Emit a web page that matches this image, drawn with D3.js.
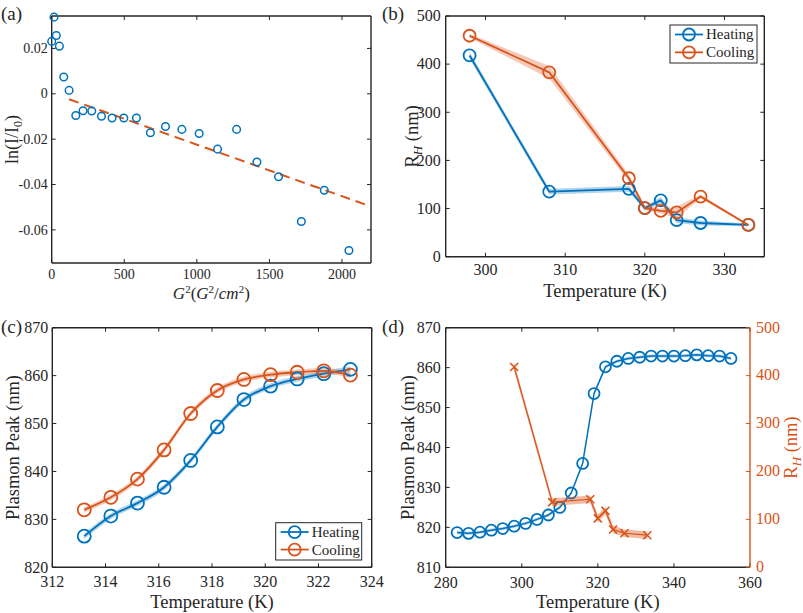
<!DOCTYPE html>
<html><head><meta charset="utf-8">
<script src="https://cdn.jsdelivr.net/npm/d3@7"></script>
<style>
body{margin:0;background:#fff}
svg{display:block}
svg text{font-family:"Liberation Serif","Times New Roman",serif;fill:#262626}
</style>
</head><body>
<svg id="chart" width="803" height="613"></svg>
<script>
// ---------- DATA ----------
// (a)
const aG2 = [0,16,32,53,83,120,166,216,276,343,416,497,584,680,784,897,1016,1143,1274,1414,1563,1720,1878,2048];
const aLn = [0.0231,0.0338,0.0257,0.0210,0.0074,0.0015,-0.0096,-0.0075,-0.0076,-0.0099,-0.0107,-0.0107,-0.0107,-0.0172,-0.0144,-0.0157,-0.0175,-0.0244,-0.0157,-0.0301,-0.0366,-0.0563,-0.0425,-0.0691];
const aFitG2 = [120, 2200];
const aFitLn = [-0.0024, -0.0497];
const aXTicks = [0,500,1000,1500,2000];
const aYTicks = [0.02,0,-0.02,-0.04,-0.06];
const aYTickLabels = ["0.02","0","-0.02","-0.04","-0.06"];
// (b)
const bTemp = [298,308,318,320,322,324,327,333];
const bHeat = [418,135,141,101,117,76,70,66];
const bHeatErr = [7,6,6,5,7,6,5,3];
const bCool = [459,383,163,101,95,92,125,66];
const bCoolErr = [4,13,8,5,5,12,4,2];
const bXTicks = [300,310,320,330];
const bYTicks = [0,100,200,300,400,500];
// (c)
const cTemp = [313.2,314.2,315.2,316.2,317.2,318.2,319.2,320.2,321.2,322.2,323.2];
const cHeat = [826.5,830.7,833.4,836.7,842.3,849.3,855.0,857.8,859.3,860.4,861.3];
const cHeatErr = [0.6,0.6,0.6,0.6,0.6,0.6,0.6,0.6,0.6,0.6,0.6];
const cCool = [832.0,834.6,838.4,844.5,852.1,856.9,859.2,860.2,860.7,861.0,860.1];
const cCoolErr = [0.6,0.6,0.6,0.6,0.6,0.6,0.6,0.6,0.6,0.6,0.6];
const cXTicks = [312,314,316,318,320,322,324];
const cYTicks = [820,830,840,850,860,870];
// (d)
const dTemp = [283,286,289,292,295,298,301,304,307,310,313,316,319,322,325,328,331,334,337,340,343,346,349,352,355];
const dPeak = [818.7,818.5,818.8,819.3,819.7,820.3,821.0,822.0,823.1,825.0,828.6,836.0,853.5,860.2,861.6,862.3,862.6,862.9,862.9,862.9,863.0,863.2,863.0,862.9,862.3];
const dPeakErr = [0.4,0.4,0.4,0.4,0.4,0.4,0.4,0.4,0.4,0.4,0.4,0.4,0.4,0.4,0.4,0.4,0.4,0.4,0.4,0.4,0.4,0.4,0.4,0.4,0.4];
const dRTemp = [298,308,318,320,322,324,327,333];
const dRh = [418,136,142,102,118,79,71,67];
const dRhErr = [9,8,8,8,8,8,8,8];
const dXTicks = [280,300,320,340,360];
const dYTicks = [810,820,830,840,850,860,870];
const dY2Ticks = [0,100,200,300,400,500];
const seriesNames = ["Heating","Cooling"];

// ---------- STYLE ----------
const BLUE = "#0072BD", ORANGE = "#D95319", AX = "#262626";
const FONT = "Liberation Serif";
const svg = d3.select("#chart");
const TL = 4;

function txt(sel) { return sel.append("text").attr("font-family", FONT); }

function drawAxes(x, y, o) {
  const [x0, x1] = x.range();
  const [yb, yt] = y.range();
  const g = svg.append("g");
  const fs = o.fs || 16;
  const L = (a,b,c,d,w) => g.append("line").attr("x1",a).attr("x2",b).attr("y1",c).attr("y2",d).attr("stroke",AX).attr("stroke-width",w);
  L(x0,x1,yb,yb,1.4); L(x0,x1,yt,yt,1.4); L(x0,x0,yb,yt,1.4);
  if (!o.noRight) L(x1,x1,yb,yt,1.4);
  o.xTicks.forEach(t => {
    const px = x(t);
    L(px,px,yb,yb-TL,1); L(px,px,yt,yt+TL,1);
    txt(g).attr("x",px).attr("y",yb+o.xLabOff).attr("text-anchor","middle").attr("font-size",fs).text(t);
  });
  o.yTicks.forEach((t,i) => {
    const py = y(t);
    L(x0,x0+TL,py,py,1);
    if (!o.noRight) L(x1,x1-TL,py,py,1);
    txt(g).attr("x",x0-o.yLabOff).attr("y",py+fs*0.33).attr("text-anchor","end").attr("font-size",fs)
      .text(o.yTickLabels ? o.yTickLabels[i] : t);
  });
  return g;
}

function band(x, y, xs, vs, es, color, op, curve) {
  const pts = xs.map((d,i)=>({x:d, lo:vs[i]-es[i], hi:vs[i]+es[i]}));
  svg.append("path").datum(pts)
    .attr("d", d3.area().x(d=>x(d.x)).y0(d=>y(d.lo)).y1(d=>y(d.hi)).curve(curve||d3.curveLinear))
    .attr("fill", color).attr("fill-opacity", op).attr("stroke","none");
}
function line(x, y, xs, vs, color, w, curve) {
  const pts = xs.map((d,i)=>[d, vs[i]]);
  svg.append("path").datum(pts)
    .attr("d", d3.line().x(d=>x(d[0])).y(d=>y(d[1])).curve(curve||d3.curveLinear))
    .attr("fill","none").attr("stroke",color).attr("stroke-width",w).attr("stroke-linejoin","round");
}
function circles(x, y, xs, vs, color, r, w) {
  svg.append("g").selectAll("circle").data(xs.map((d,i)=>[d,vs[i]])).join("circle")
    .attr("cx",d=>x(d[0])).attr("cy",d=>y(d[1])).attr("r",r)
    .attr("fill","none").attr("stroke",color).attr("stroke-width",w);
}
function crosses(x, y, xs, vs, color, s, w) {
  const g = svg.append("g");
  xs.forEach((d,i) => {
    const cx = x(d), cy = y(vs[i]);
    g.append("path").attr("d",`M${cx-s},${cy-s}L${cx+s},${cy+s}M${cx-s},${cy+s}L${cx+s},${cy-s}`)
      .attr("stroke",color).attr("stroke-width",w).attr("fill","none");
  });
}
function ylabel(cx, cy, parts, fs, color) {
  const t = txt(svg).attr("transform",`translate(${cx},${cy}) rotate(-90)`)
    .attr("text-anchor","middle").attr("font-size",fs).attr("dy","0.35em");
  if (color) t.style("fill", color);
  parts(t);
  return t;
}
function legend(x0, y0, w, h, fs) {
  const g = svg.append("g");
  g.append("rect").attr("x",x0).attr("y",y0).attr("width",w).attr("height",h)
    .attr("fill","#fff").attr("stroke",AX).attr("stroke-width",1);
  [BLUE, ORANGE].forEach((c,i) => {
    const yy = y0 + h*0.25 + i*h*0.47;
    g.append("line").attr("x1",x0+5).attr("x2",x0+33).attr("y1",yy).attr("y2",yy).attr("stroke",c).attr("stroke-width",1.8);
    g.append("circle").attr("cx",x0+19).attr("cy",yy).attr("r",6).attr("fill","none").attr("stroke",c).attr("stroke-width",1.8);
    txt(g).attr("x",x0+36).attr("y",yy+fs*0.33).attr("font-size",fs).text(seriesNames[i]);
  });
}
function panelLabel(x, y, s) {
  txt(svg).attr("x",x).attr("y",y).attr("font-size",19).text(s);
}

// ---------- PANEL (a) ----------
{
  const x = d3.scaleLinear().domain([0,2200]).range([51.7,371]);
  const y = d3.scaleLinear().domain([-0.0746,0.0343]).range([263,16]);
  drawAxes(x, y, {xTicks:aXTicks, yTicks:aYTicks, yTickLabels:aYTickLabels, fs:14, xLabOff:16, yLabOff:4});
  svg.append("path").datum(aFitG2.map((d,i)=>[d,aFitLn[i]]))
    .attr("d", d3.line().x(d=>x(d[0])).y(d=>y(d[1])))
    .attr("fill","none").attr("stroke",ORANGE).attr("stroke-width",2).attr("stroke-dasharray","10,6");
  circles(x, y, aG2, aLn, BLUE, 3.8, 1.5);
  panelLabel(1, 20, "(a)");
  const xl = txt(svg).attr("x",(51.7+371)/2).attr("y",299).attr("text-anchor","middle").attr("font-size",17);
  xl.append("tspan").attr("font-style","italic").text("G");
  xl.append("tspan").attr("font-size",11).attr("dy",-6).text("2");
  xl.append("tspan").attr("dy",6).text("(");
  xl.append("tspan").attr("font-style","italic").text("G");
  xl.append("tspan").attr("font-size",11).attr("dy",-6).text("2");
  xl.append("tspan").attr("dy",6).text("/");
  xl.append("tspan").attr("font-style","italic").text("cm");
  xl.append("tspan").attr("font-size",11).attr("dy",-6).text("2");
  xl.append("tspan").attr("dy",6).text(")");
  ylabel(12, (16+263)/2, t => {
    t.append("tspan").text("ln(I/I");
    t.append("tspan").attr("font-size",12).attr("dy",4).text("0");
    t.append("tspan").attr("dy",-4).text(")");
  }, 18);
}

// ---------- PANEL (b) ----------
{
  const x = d3.scaleLinear().domain([295,335]).range([445.7,764.3]);
  const y = d3.scaleLinear().domain([0,500]).range([256.7,16]);
  drawAxes(x, y, {xTicks:bXTicks, yTicks:bYTicks, fs:16, xLabOff:18, yLabOff:5});
  band(x, y, bTemp, bHeat, bHeatErr, BLUE, 0.3);
  line(x, y, bTemp, bHeat, BLUE, 1.8);
  band(x, y, bTemp, bCool, bCoolErr, ORANGE, 0.3);
  line(x, y, bTemp, bCool, ORANGE, 1.8);
  circles(x, y, bTemp, bHeat, BLUE, 6, 1.8);
  circles(x, y, bTemp, bCool, ORANGE, 6, 1.8);
  legend(670, 25, 87, 38, 15);
  panelLabel(382, 20, "(b)");
  txt(svg).attr("x",(445.7+764.3)/2).attr("y",297).attr("text-anchor","middle").attr("font-size",18.5).text("Temperature (K)");
  ylabel(412, (16+256.7)/2, t => {
    t.append("tspan").text("R");
    t.append("tspan").attr("font-size",13).attr("font-style","italic").attr("dy",4).text("H");
    t.append("tspan").attr("dy",-4).text(" (nm)");
  }, 18.5);
}

// ---------- PANEL (c) ----------
{
  const x = d3.scaleLinear().domain([312,324]).range([52.3,371.7]);
  const y = d3.scaleLinear().domain([820,870]).range([567.3,327.7]);
  drawAxes(x, y, {xTicks:cXTicks, yTicks:cYTicks, fs:16, xLabOff:20, yLabOff:4});
  const cv = d3.curveMonotoneX;
  band(x, y, cTemp, cHeat, cHeatErr, BLUE, 0.3, cv);
  line(x, y, cTemp, cHeat, BLUE, 1.8, cv);
  band(x, y, cTemp, cCool, cCoolErr, ORANGE, 0.3, cv);
  line(x, y, cTemp, cCool, ORANGE, 1.8, cv);
  circles(x, y, cTemp, cHeat, BLUE, 6.5, 1.8);
  circles(x, y, cTemp, cCool, ORANGE, 6.5, 1.8);
  legend(275.7, 522.7, 86, 37.3, 15);
  panelLabel(1, 333, "(c)");
  txt(svg).attr("x",(52.3+371.7)/2).attr("y",608).attr("text-anchor","middle").attr("font-size",18.5).text("Temperature (K)");
  ylabel(13, (327.7+567.3)/2, t => t.text("Plasmon Peak (nm)"), 18.5);
}

// ---------- PANEL (d) ----------
{
  const x = d3.scaleLinear().domain([280,360]).range([445.7,750]);
  const y = d3.scaleLinear().domain([810,870]).range([567.3,327.7]);
  const y2 = d3.scaleLinear().domain([0,500]).range([567.3,327.7]);
  drawAxes(x, y, {xTicks:dXTicks, yTicks:dYTicks, fs:16, xLabOff:21, yLabOff:5, noRight:true});
  const g = svg.append("g");
  g.append("line").attr("x1",750).attr("x2",750).attr("y1",567.3).attr("y2",327.7).attr("stroke",ORANGE).attr("stroke-width",1.4);
  dY2Ticks.forEach(t => {
    g.append("line").attr("x1",750).attr("x2",750-TL).attr("y1",y2(t)).attr("y2",y2(t)).attr("stroke",ORANGE).attr("stroke-width",1);
    txt(g).attr("x",756).attr("y",y2(t)+16*0.3).attr("font-size",16).style("fill",ORANGE).text(t);
  });
  band(x, y, dTemp, dPeak, dPeakErr, BLUE, 0.3);
  line(x, y, dTemp, dPeak, BLUE, 1.5);
  circles(x, y, dTemp, dPeak, BLUE, 5.5, 1.8);
  band(x, y2, dRTemp, dRh, dRhErr, ORANGE, 0.4);
  line(x, y2, dRTemp, dRh, ORANGE, 1.2);
  crosses(x, y2, dRTemp, dRh, ORANGE, 4, 1.6);
  panelLabel(382, 333, "(d)");
  txt(svg).attr("x",(445.7+750)/2).attr("y",608).attr("text-anchor","middle").attr("font-size",18.5).text("Temperature (K)");
  ylabel(408, (327.7+567.3)/2, t => t.text("Plasmon Peak (nm)"), 18.5);
  ylabel(791, (327.7+567.3)/2, t => {
    t.append("tspan").style("fill",ORANGE).text("R");
    t.append("tspan").style("fill",ORANGE).attr("font-size",13).attr("font-style","italic").attr("dy",4).text("H");
    t.append("tspan").style("fill",ORANGE).attr("dy",-4).text(" (nm)");
  }, 18.5, ORANGE);
}
</script>
</body></html>
